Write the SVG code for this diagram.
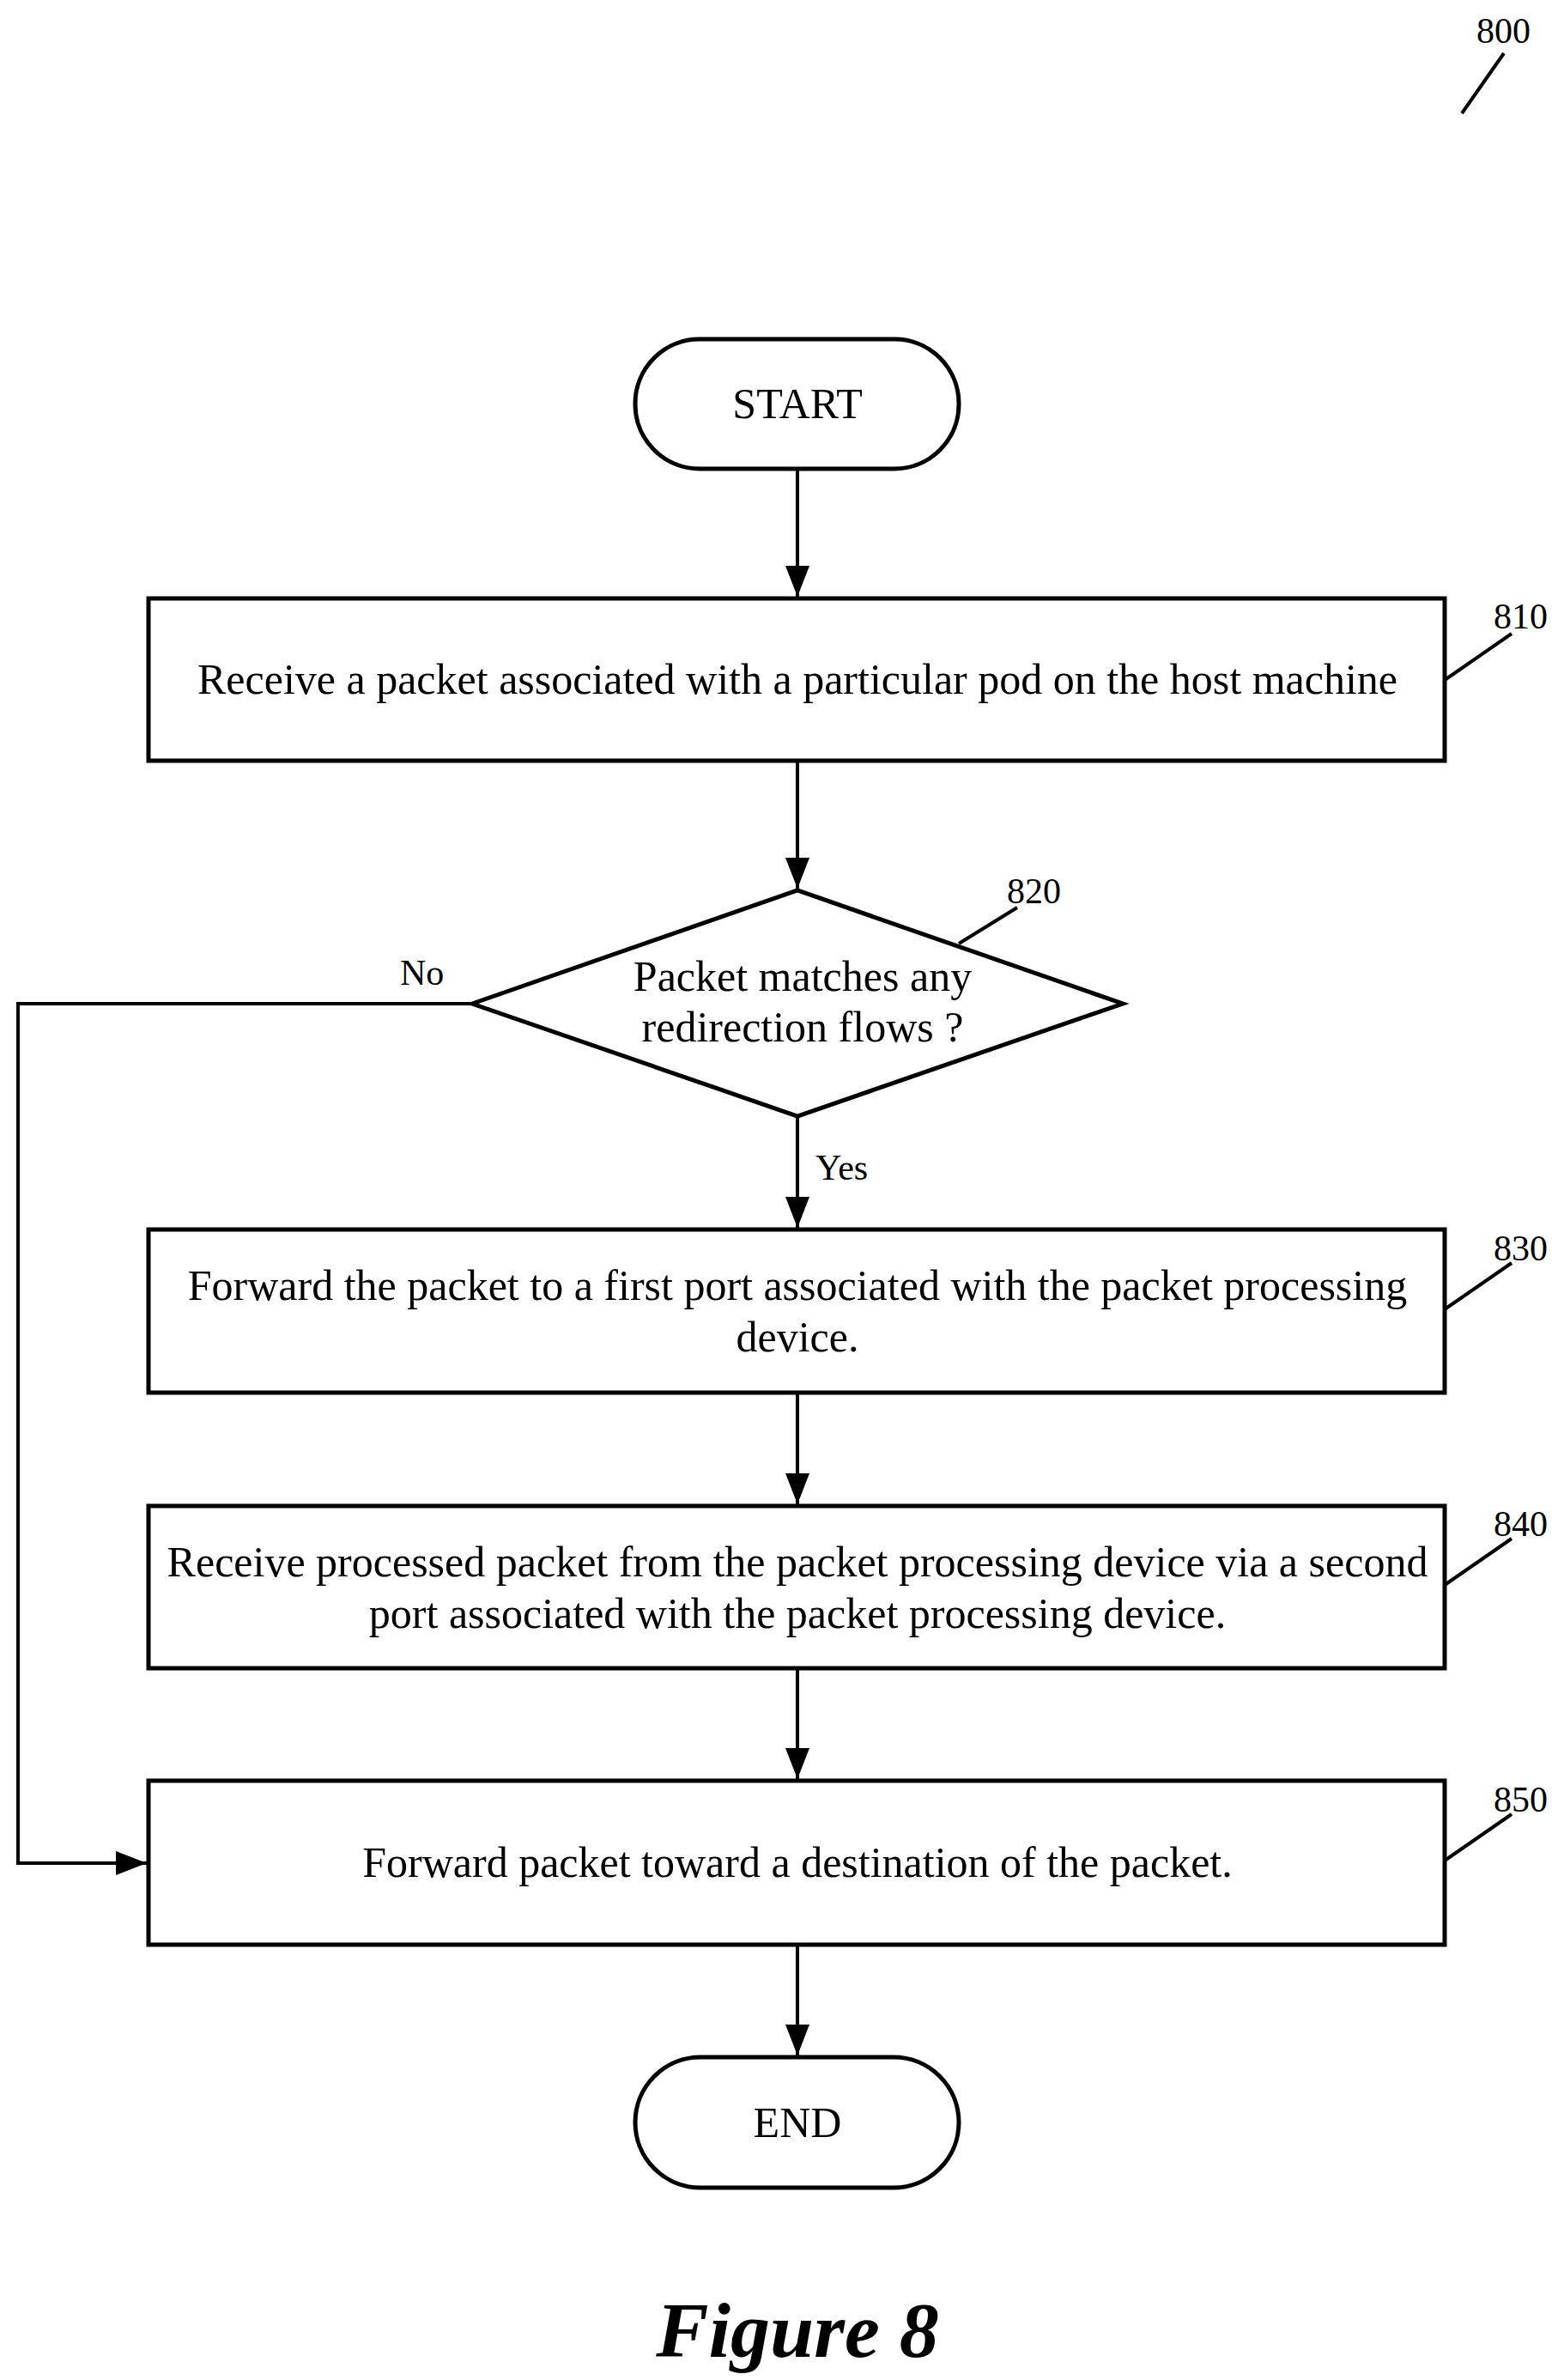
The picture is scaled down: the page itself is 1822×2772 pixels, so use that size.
<svg xmlns="http://www.w3.org/2000/svg" width="1822" height="2772" viewBox="0 0 1822 2772">
<defs>
<marker id="ah" markerWidth="36" markerHeight="28" refX="36" refY="14" orient="auto" markerUnits="userSpaceOnUse" viewBox="0 0 36 28"><path d="M0,0 L36,14 L0,28 z" fill="#000"/></marker>
<style>
.s{fill:#fff;stroke:#000;stroke-width:5}
.l{fill:none;stroke:#000;stroke-width:4}
.t{font-family:"Liberation Serif",serif;font-size:50px;text-anchor:middle;fill:#000}
.n{font-family:"Liberation Serif",serif;font-size:42px;fill:#000}
</style>
</defs>
<rect width="1822" height="2772" fill="#fff"/>
<text class="n" x="1720" y="50">800</text>
<line class="l" x1="1703" y1="132" x2="1752" y2="62"/>
<g id="start"><rect class="s" x="740" y="395" width="377" height="151" rx="75"/><text class="t" x="929" y="487">START</text></g>
<g id="n810"><rect class="s" x="173" y="697" width="1510" height="189"/><text class="t" x="929" y="808">Receive a packet associated with a particular pod on the host machine</text>
<text class="n" x="1740" y="732">810</text><line class="l" x1="1683" y1="792" x2="1761" y2="738"/></g>
<g id="n820"><polygon class="s" points="550,1169 929,1037 1308,1169 929,1300"/><text class="t" x="935" y="1154">Packet matches any</text><text class="t" x="935" y="1213">redirection flows ?</text>
<text class="n" x="1173" y="1052">820</text><line class="l" x1="1117" y1="1099" x2="1185" y2="1057"/></g>
<g id="n830"><rect class="s" x="173" y="1432" width="1510" height="190"/><text class="t" x="929" y="1514">Forward the packet to a first port associated with the packet processing</text><text class="t" x="929" y="1574">device.</text>
<text class="n" x="1740" y="1468">830</text><line class="l" x1="1683" y1="1525" x2="1761" y2="1471"/></g>
<g id="n840"><rect class="s" x="173" y="1754" width="1510" height="189"/><text class="t" x="929" y="1836">Receive processed packet from the packet processing device via a second</text><text class="t" x="929" y="1896">port associated with the packet processing device.</text>
<text class="n" x="1740" y="1789">840</text><line class="l" x1="1683" y1="1846" x2="1761" y2="1792"/></g>
<g id="n850"><rect class="s" x="173" y="2074" width="1510" height="191"/><text class="t" x="929" y="2186">Forward packet toward a destination of the packet.</text>
<text class="n" x="1740" y="2110">850</text><line class="l" x1="1683" y1="2167" x2="1761" y2="2113"/></g>
<g id="end"><rect class="s" x="740" y="2396" width="377" height="152" rx="76"/><text class="t" x="929" y="2489">END</text></g>
<g id="connectors">
<line class="l" x1="929" y1="546" x2="929" y2="695" marker-end="url(#ah)"/>
<line class="l" x1="929" y1="886" x2="929" y2="1035" marker-end="url(#ah)"/>
<line class="l" x1="929" y1="1300" x2="929" y2="1430" marker-end="url(#ah)"/>
<line class="l" x1="929" y1="1622" x2="929" y2="1752" marker-end="url(#ah)"/>
<line class="l" x1="929" y1="1943" x2="929" y2="2072" marker-end="url(#ah)"/>
<line class="l" x1="929" y1="2265" x2="929" y2="2394" marker-end="url(#ah)"/>
<polyline class="l" points="550,1169 21,1169 21,2170 171,2170" marker-end="url(#ah)"/>
<text class="n" x="466" y="1147">No</text>
<text class="n" x="950" y="1374">Yes</text>
</g>
<text x="929" y="2745" font-family="Liberation Serif,serif" font-size="92" font-weight="bold" font-style="italic" text-anchor="middle">Figure 8</text>
</svg>
